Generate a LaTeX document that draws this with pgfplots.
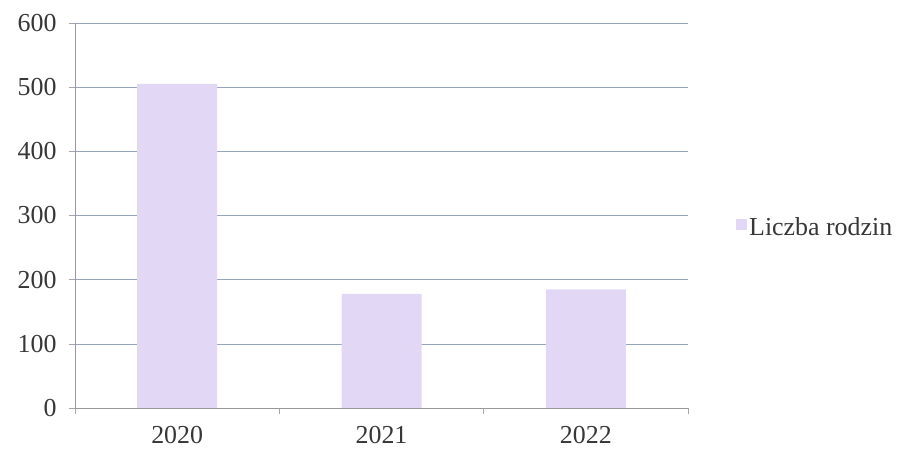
\documentclass[border=0pt]{standalone}
\usepackage{pgfplots}
\pgfplotsset{compat=1.18}
\usepackage{fontspec}
\setmainfont{Liberation Serif}

\definecolor{barfill}{RGB}{226,216,246}
\definecolor{gridc}{RGB}{150,165,185}
\definecolor{txt}{RGB}{55,55,55}

\begin{document}
\begin{tikzpicture}
	\useasboundingbox (-75bp,-42bp) rectangle (823bp,408bp);
	\begin{axis}[
	scale only axis,
	width=613bp,
	height=385bp,
	ybar,
	bar width=80bp,
	xmin=-0.5, xmax=2.5,
	ymin=0, ymax=600,
	ytick={0,100,...,600},
	xtick={0,1,2},
	xticklabels={2020,2021,2022},
	minor xtick={-0.5,0.5,1.5,2.5},
	major x tick style={draw=none},
	minor x tick style={gray!70, thin},
	minor tick length=6bp,
	major tick length=6bp,
	y tick style={gray!70, thin},
	tick align=outside,
	xtick pos=bottom,
	ytick pos=left,
	axis x line*=bottom,
	axis y line*=left,
	axis line style={gray!80, thin},
	ymajorgrids,
	grid style={gridc, line width=0.5pt},
	tick label style={font=\fontsize{26}{30}\selectfont, text=txt},
	/pgf/number format/assume math mode=true,
	yticklabel style={xshift=-9bp},
	xticklabel style={yshift=-9bp},
	legend style={at={(1.0,0.47)}, anchor=west, xshift=45bp, draw=none,
		font=\fontsize{26}{30}\selectfont, text=txt},
	legend image code/.code={\fill[#1, draw=none] (0bp,-3bp) rectangle (11bp,8bp);},
	]
	\addplot[fill=barfill, draw=none] coordinates {(0,505) (1,178) (2,185)};
	\legend{Liczba rodzin}
	\end{axis}
\end{tikzpicture}
\end{document}
